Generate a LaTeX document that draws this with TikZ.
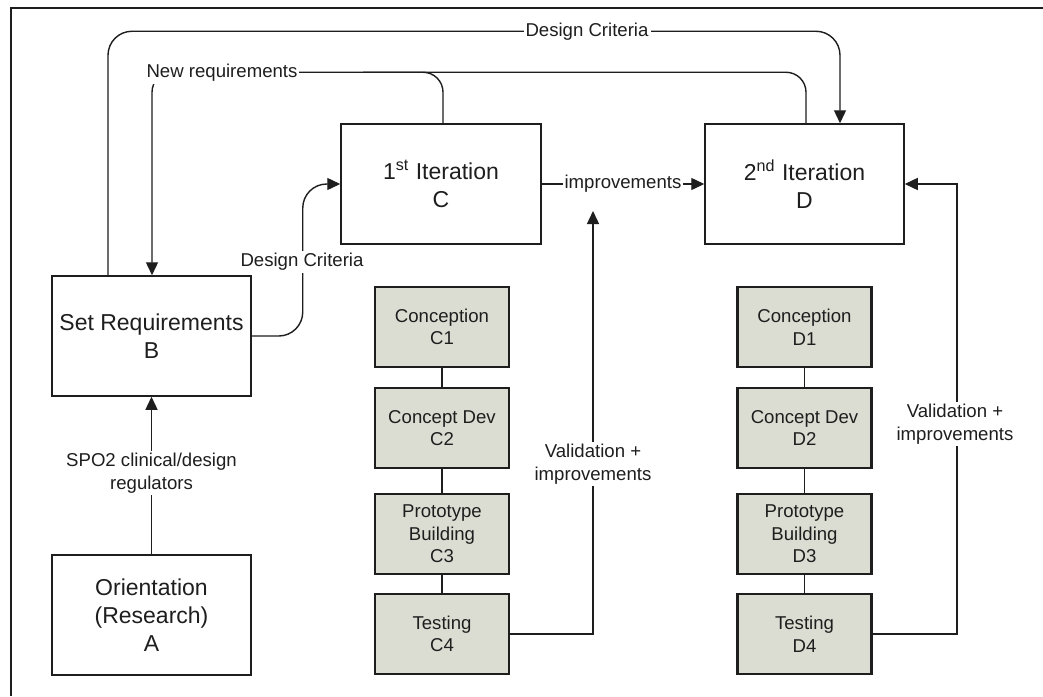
\documentclass[tikz,border=0pt]{standalone}
\usepackage{fontspec}
\setmainfont{Liberation Sans}
\usetikzlibrary{arrows.meta,calc}
\definecolor{boxgray}{RGB}{220,221,210}
\definecolor{ink}{RGB}{30,30,30}
\begin{document}
\begin{tikzpicture}[x=0.5pt,y=-0.5pt,
  line width=0.7pt, color=ink,
  wbox/.style={draw=ink,line width=0.75pt,rectangle,minimum width=99.5pt,minimum height=60pt,inner sep=0pt,align=center,font=\fontsize{11.5}{14}\selectfont},
  gbox/.style={draw=ink,line width=1.3pt,fill=boxgray,minimum width=67pt,minimum height=40pt,inner sep=0pt,align=center,font=\fontsize{9.3}{11.3}\selectfont},
  lbl/.style={fill=white,inner sep=1pt,align=center,font=\fontsize{9.3}{11.3}\selectfont,text=ink},
  arr/.style={-{Triangle[length=6.5pt,width=6pt]}},
  rc/.style={rounded corners=12pt}]
\useasboundingbox (0,0) rectangle (1043,696);
\fill[white] (0,0) rectangle (1043,696);
\draw[line width=1pt] (1043,8) -- (11,8) -- (11,696);

% main boxes
\node[wbox] (B) at (151.5,336) {Set Requirements\\B};
\node[wbox] (A) at (151.5,615) {Orientation\\(Research)\\A};
\node[wbox,minimum width=100pt] (C) at (441,184) {1\textsuperscript{st} Iteration\\C};
\node[wbox] (D) at (804.5,184) {2\textsuperscript{nd} Iteration\\D};

% sub-steps C
\node[gbox] (C1) at (442,327) {Conception\\C1};
\node[gbox] (C2) at (442,428) {Concept Dev\\C2};
\node[gbox] (C3) at (442,534) {Prototype\\Building\\C3};
\node[gbox] (C4) at (442,634) {Testing\\C4};
% sub-steps D
\node[gbox] (D1) at (804.5,327) {Conception\\D1};
\node[gbox] (D2) at (804.5,428) {Concept Dev\\D2};
\node[gbox] (D3) at (804.5,534) {Prototype\\Building\\D3};
\node[gbox] (D4) at (804.5,634) {Testing\\D4};

\draw (C1) -- (C2);
\draw (C2) -- (C3);
\draw (C3) -- (C4);
\draw (D1) -- (D2);
\draw (D2) -- (D3);
\draw (D3) -- (D4);

% connectors
\draw[arr] (A) -- (B);
\draw[arr,rc] (B.east) -- ++(51,0) |- (C.west);
\draw[arr,rc] ([xshift=-21.75pt]B.north) -- ++(0,-244) -| ([xshift=17.75pt]D.north);
\draw[arr,rounded corners=10pt] ([xshift=0.75pt]D.north) -- ++(0,-51) -| ([xshift=0.25pt]B.north);
\draw[rounded corners=10pt] ([xshift=1pt]C.north) -- ++(0,-51) -- ++(-80,0);
\draw[arr] (C) -- node[lbl]{improvements} (D);
\coordinate (cv) at (593,211);
\draw[arr] (C4.east) -| (cv);
\draw[arr] (D4.east) -- ++(84,0) |- (D.east);

% labels
\node[lbl] (l1) at (151.5,473) {SPO2 clinical/design\\regulators};
\node[lbl] (l2) at (302,262) {Design Criteria};
\node[lbl] (l3) at (587,32) {Design Criteria};
\node[lbl] (l4) at (222,73) {New requirements};
\node[lbl] (l5) at (593,464) {Validation +\\improvements};
\node[lbl] (l6) at (955,424) {Validation +\\improvements};
\end{tikzpicture}
\end{document}
